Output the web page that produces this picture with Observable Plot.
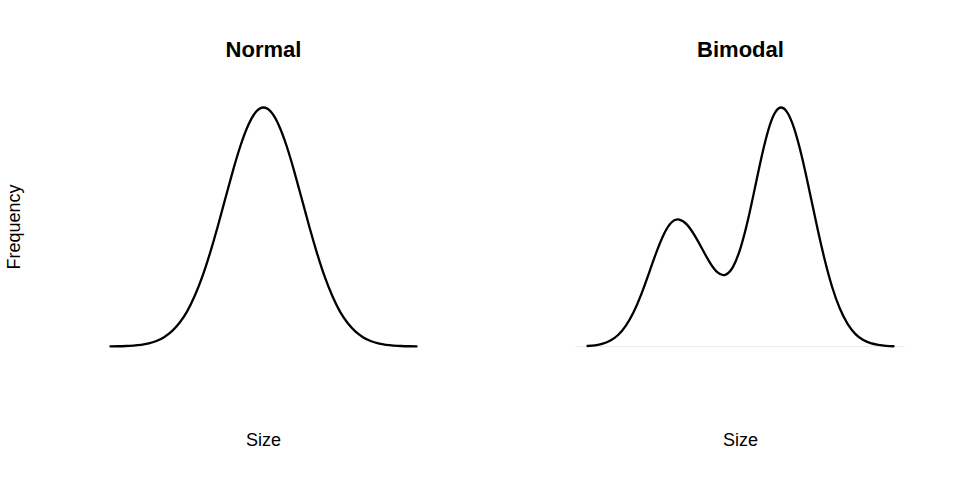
<!DOCTYPE html>
<html>
<head>
<meta charset="utf-8">
<script src="https://cdn.jsdelivr.net/npm/d3@7"></script>
<script src="https://cdn.jsdelivr.net/npm/@observablehq/plot@0.6"></script>
<style>
  html, body { margin: 0; padding: 0; background: #ffffff; }
  #chart svg { display: block; }
</style>
</head>
<body>
<div id="chart"></div>
<script>
// Panel titles
const panels = ["Normal", "Bimodal"];

// Size positions (shared by both panels)
const sizes = [0, 2.5, 5, 7.5, 10, 12.5, 15, 17.5, 20, 22.5, 25, 27.5, 30, 32.5, 35, 37.5, 40,
  42.5, 45, 47.5, 50, 52.5, 55, 57.5, 60, 62.5, 65, 67.5, 70, 72.5, 75, 77.5, 80,
  82.5, 85, 87.5, 90, 92.5, 95, 97.5, 100];

const normalFreq = [0.0005, 0.001, 0.002, 0.004, 0.007, 0.013, 0.023, 0.039, 0.063, 0.098, 0.146,
  0.211, 0.292, 0.390, 0.500, 0.618, 0.735, 0.841, 0.926, 0.981, 1.000,
  0.981, 0.926, 0.841, 0.735, 0.618, 0.500, 0.390, 0.292, 0.211, 0.146,
  0.098, 0.063, 0.039, 0.023, 0.013, 0.007, 0.004, 0.002, 0.001, 0.0005];

const bimodalFreq = [0.002, 0.005, 0.012, 0.025, 0.048, 0.086, 0.142, 0.216, 0.304, 0.394, 0.471,
  0.520, 0.531, 0.510, 0.465, 0.408, 0.351, 0.310, 0.300, 0.332, 0.412,
  0.533, 0.681, 0.827, 0.942, 0.997, 0.985, 0.914, 0.797, 0.653, 0.503,
  0.364, 0.247, 0.158, 0.095, 0.053, 0.028, 0.014, 0.007, 0.003, 0.001];

// Axis titles
const xTitle = "Size";
const yTitle = "Frequency";

const series = {Normal: normalFreq, Bimodal: bimodalFreq};
const rows = panels.flatMap(p => sizes.map((s, i) => ({panel: p, size: s, freq: series[p][i]})));
const baseline = [{panel: "Bimodal", value: 0}];

const font = "'Liberation Sans', Arial, Helvetica, sans-serif";

const chart = Plot.plot({
  width: 955,
  height: 478,
  marginLeft: 98,
  marginRight: 50,
  marginTop: 107,
  marginBottom: 132,
  style: {fontFamily: font, background: "#ffffff", color: "#000000"},
  fx: {domain: panels, paddingInner: 0.3082, paddingOuter: 0, axis: null},
  x: {domain: [0, 100], inset: 12, axis: null},
  y: {domain: [0, 1], axis: null},
  marks: [
    Plot.ruleY(baseline, {y: "value", fx: "panel", stroke: "#ececec", strokeWidth: 1}),
    Plot.line(rows, {x: "size", y: "freq", fx: "panel", stroke: "#000000", strokeWidth: 2.3, curve: "natural"}),
    Plot.text(panels, {fx: d => d, text: d => d, frameAnchor: "top", lineAnchor: "middle", textAnchor: "middle",
      dy: -57.5, fontSize: 22, fontWeight: "bold", fill: "#000000"}),
    Plot.text(panels, {fx: d => d, text: () => xTitle, frameAnchor: "bottom", lineAnchor: "middle", textAnchor: "middle",
      dy: 94, fontSize: 18, fill: "#000000"}),
    Plot.text([panels[0]], {fx: d => d, text: () => yTitle, frameAnchor: "left", lineAnchor: "middle", textAnchor: "middle",
      rotate: -90, dx: -84, fontSize: 18, fill: "#000000"})
  ]
});

document.getElementById("chart").appendChild(chart);
</script>
</body>
</html>
